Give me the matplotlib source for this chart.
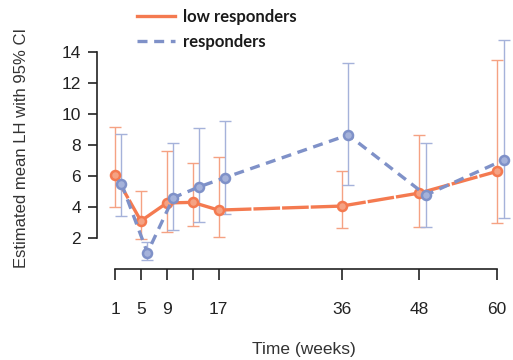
import matplotlib
matplotlib.use("Agg")
import matplotlib.pyplot as plt
import numpy as np

# Data (weeks, estimated mean LH and 95% CI)
weeks = [1, 5, 9, 13, 17, 36, 48, 60]
week_labels = ["1", "5", "9", "", "17", "36", "48", "60"]

low_mean = [6.06, 3.1, 4.26, 4.3, 3.8, 4.06, 4.9, 6.3]
low_upper = [9.16, 5.03, 7.6, 6.84, 7.2, 6.3, 8.65, 13.5]
low_lower = [4.0, 1.94, 2.4, 2.77, 2.06, 2.65, 2.7, 3.0]

resp_mean = [5.5, 1.05, 4.6, 5.3, 5.9, 8.65, 4.77, 7.03]
resp_upper = [8.7, 1.74, 8.13, 9.1, 9.55, 13.3, 8.13, 14.8]
resp_lower = [3.4, 0.6, 2.5, 3.03, 3.55, 5.4, 2.7, 3.3]

# responders are drawn slightly shifted to the right, as in the original
resp_shift = 1.0

ORANGE = "#F47A50"
ORANGE_LIGHT = "#F5A283"
BLUE = "#7F91C8"
BLUE_LIGHT = "#A5B2DA"

plt.rcParams["font.family"] = ["Liberation Sans", "DejaVu Sans"]

fig = plt.figure(figsize=(5.13, 3.6), dpi=100)
W, H = 513, 360
ax = fig.add_axes([97 / W, (H - 269) / H, (510 - 97) / W, (269 - 30) / H])
ax.set_xlim(-1.78, 61.99)
ax.set_ylim(0, 15.42)


def draw_series(x, mean, lower, upper, color, light, dashes, label):
    x = np.asarray(x, dtype=float)
    mean = np.asarray(mean)
    yerr = [mean - np.asarray(lower), np.asarray(upper) - mean]
    ax.errorbar(x, mean, yerr=yerr, fmt="none", ecolor=light, elinewidth=1.0,
                capsize=4, capthick=1.0, clip_on=False, zorder=2)
    line, = ax.plot(x, mean, color=color, lw=2.4, dashes=dashes, marker="o",
                    ms=6.5, mfc=light, mec=color, mew=1.8, clip_on=False,
                    zorder=3, label=label)
    return line


h_low = draw_series(weeks, low_mean, low_lower, low_upper, ORANGE, ORANGE_LIGHT,
                    (8, 0.6), "low responders")
h_resp = draw_series(np.array(weeks) + resp_shift, resp_mean, resp_lower, resp_upper,
                     BLUE, BLUE_LIGHT, (3, 2), "responders")

# R-style detached axes
for side in ("top", "right"):
    ax.spines[side].set_visible(False)
ax.spines["left"].set_bounds(2, 14)
ax.spines["bottom"].set_bounds(1, 60)
for side in ("left", "bottom"):
    ax.spines[side].set_linewidth(1.2)
    ax.spines[side].set_color("#222222")

ax.set_yticks([2, 4, 6, 8, 10, 12, 14])
ax.set_xticks(weeks)
ax.set_xticklabels(week_labels)
ax.tick_params(axis="y", length=6.5, width=1.2, pad=5, labelsize=12.5,
               colors="#222222")
ax.tick_params(axis="x", length=8, width=1.2, pad=16, labelsize=12.5,
               colors="#222222")

ax.set_xlabel("Time (weeks)", fontsize=12.5, color="#333333", labelpad=18)
fig.text(22 / W, (H - 148) / H, "Estimated mean LH with 95% CI", rotation=90,
         ha="center", va="center", fontsize=12, color="#333333")

leg = ax.legend(handles=[h_low, h_resp], loc="upper left",
                bbox_to_anchor=(130 / W, 1 - 2 / H), bbox_transform=fig.transFigure,
                frameon=False, handlelength=2.3, handletextpad=0.5,
                labelspacing=0.55, borderaxespad=0,
                prop={"family": "Lato", "weight": "bold", "size": 12})
leg_lines = leg.get_lines()
for hl in leg_lines:
    hl.set_marker("")
    hl.set_linewidth(2.4)
leg_lines[0].set_linestyle("-")
for txt in leg.get_texts():
    txt.set_color("#1a1a1a")

fig.savefig("out.png", dpi=100)
